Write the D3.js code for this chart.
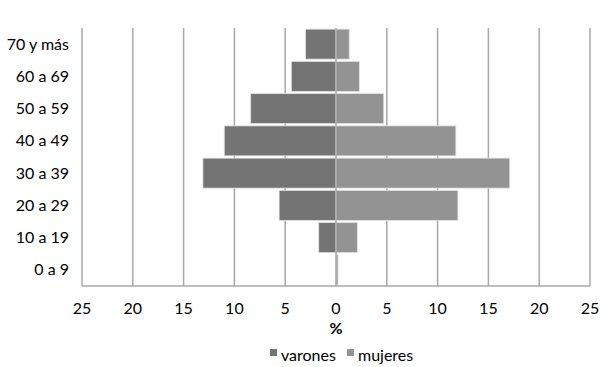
<!DOCTYPE html>
<html><head><meta charset="utf-8">
<script src="https://cdn.jsdelivr.net/npm/d3@7"></script>
<style>
body{margin:0;background:#fff;}
text{font-family:Lato,"Open Sans",sans-serif;fill:#000;}
</style></head>
<body><svg id="c" width="612" height="367"></svg>
<script>
const categories = ["70 y más","60 a 69","50 a 59","40 a 49","30 a 39","20 a 29","10 a 19","0 a 9"];
const varones = [3.0, 4.4, 8.4, 11.0, 13.1, 5.6, 1.7, 0];
const mujeres = [1.3, 2.3, 4.7, 11.8, 17.1, 12.0, 2.1, 0.2];
const xTicks = [-25,-20,-15,-10,-5,0,5,10,15,20,25];
const seriesNames = ["varones","mujeres"];
const colors = ["#747474","#939393"];

const svg = d3.select("#c");
const x = d3.scaleLinear().domain([-25,25]).range([82,590]);
const y = d3.scaleBand().domain(categories).range([28,286]).paddingInner(0.07).paddingOuter(0.035);

// gridlines
svg.append("g").selectAll("line").data(xTicks.filter(d=>d!==0)).join("line")
  .attr("x1",d=>x(d)).attr("x2",d=>x(d)).attr("y1",28).attr("y2",286)
  .attr("stroke","#a8a8a8").attr("stroke-width",1.5);

// bars
svg.append("g").selectAll("rect").data(categories).join("rect")
  .attr("x",(d,i)=>x(-varones[i])).attr("width",(d,i)=>x(0)-x(-varones[i]))
  .attr("y",d=>y(d)).attr("height",y.bandwidth())
  .attr("fill",colors[0]).attr("stroke","#e2e2e2").attr("stroke-width",0.8);
svg.append("g").selectAll("rect").data(categories).join("rect")
  .attr("x",x(0)).attr("width",(d,i)=>x(mujeres[i])-x(0))
  .attr("y",d=>y(d)).attr("height",y.bandwidth())
  .attr("fill",colors[1]).attr("stroke","#e2e2e2").attr("stroke-width",0.8);

// zero axis and bottom axis
svg.append("line").attr("x1",x(0)).attr("x2",x(0)).attr("y1",28).attr("y2",286)
  .attr("stroke","#a8a8a8").attr("stroke-width",1.5);
svg.append("line").attr("x1",x(-25)).attr("x2",x(25)).attr("y1",286).attr("y2",286)
  .attr("stroke","#a8a8a8").attr("stroke-width",1.5);

// x tick labels
svg.append("g").selectAll("text").data(xTicks).join("text")
  .attr("x",d=>x(d)).attr("y",314).attr("text-anchor","middle")
  .attr("font-size",16).text(d=>Math.abs(d));

// category labels
svg.append("g").selectAll("text").data(categories).join("text")
  .attr("x",69).attr("y",d=>y(d)+y.bandwidth()/2).attr("dy","0.35em")
  .attr("text-anchor","end").attr("font-size",16).text(d=>d);

// axis title
svg.append("text").attr("x",x(0)).attr("y",334).attr("text-anchor","middle")
  .attr("font-size",16).attr("font-weight","bold").text("%");

// legend
const leg = svg.append("g");
const legX = [270, 347];
seriesNames.forEach((n,i)=>{
  leg.append("rect").attr("x",legX[i]).attr("y",349).attr("width",7).attr("height",7).attr("fill",colors[i]);
  leg.append("text").attr("x",legX[i]+11).attr("y",361).attr("font-size",16).text(n);
});
</script></body></html>
